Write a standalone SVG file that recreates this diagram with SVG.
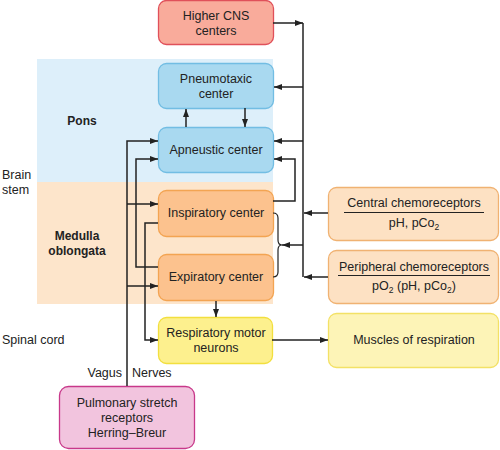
<svg xmlns="http://www.w3.org/2000/svg" width="500" height="450" viewBox="0 0 500 450">
<defs>
<marker id="ah" markerUnits="userSpaceOnUse" markerWidth="8" markerHeight="6" refX="8" refY="3" orient="auto">
<path d="M0,0 L8,3 L0,6 z" fill="#222"/>
</marker>
</defs>
<style>
text{font-family:"Liberation Sans",Arial,sans-serif;font-size:12.5px;fill:#222}
.c{text-anchor:middle}
.b{font-weight:bold;font-size:12px}
.box{stroke-width:1.3}
.red{fill:#f9ab9b;stroke:#e0505a}
.blue{fill:#a9d9f0;stroke:#72bde3}
.orange{fill:#fcc28e;stroke:#f3a452}
.yellow{fill:#fdf08e;stroke:#f2df3e}
.lyellow{fill:#fdf4b7;stroke:#f3e166}
.chemo{fill:#fde1c3;stroke:#f0b272}
.pink{fill:#f2c4de;stroke:#c8388a}
#connectors path{fill:none;stroke:#222;stroke-width:1.5}
.sub{font-size:8.5px}
</style>
<rect x="0" y="0" width="500" height="450" fill="#fff"/>
<g id="regions">
<rect x="37" y="59" width="236" height="123" fill="#ddeffa"/>
<rect x="37" y="182" width="236" height="122" fill="#fde5cb"/>
<text x="82" y="125" class="c b">Pons</text>
<text x="77" y="240" class="c b">Medulla</text>
<text x="77" y="255" class="c b">oblongata</text>
<text x="2" y="179">Brain</text>
<text x="2" y="194">stem</text>
<text x="2" y="344">Spinal cord</text>
</g>
<g id="higher-cns">
<rect class="box red" x="158.5" y="0.5" width="115" height="44" rx="8"/>
<text x="216" y="20" class="c">Higher CNS</text>
<text x="216" y="35" class="c">centers</text>
</g>
<g id="pneumotaxic">
<rect class="box blue" x="158.5" y="63.5" width="115" height="45" rx="8"/>
<text x="216" y="83" class="c">Pneumotaxic</text>
<text x="216" y="98" class="c">center</text>
</g>
<g id="apneustic">
<rect class="box blue" x="158.5" y="127.5" width="115" height="45" rx="8"/>
<text x="216" y="154" class="c">Apneustic center</text>
</g>
<g id="inspiratory">
<rect class="box orange" x="158.5" y="190.5" width="115" height="46" rx="8"/>
<text x="216" y="217" class="c">Inspiratory center</text>
</g>
<g id="expiratory">
<rect class="box orange" x="158.5" y="254.5" width="115" height="46" rx="8"/>
<text x="216" y="281" class="c">Expiratory center</text>
</g>
<g id="central-chemoreceptors">
<rect class="box chemo" x="328.5" y="187.5" width="170" height="53" rx="8"/>
<text x="414" y="207" class="c">Central chemoreceptors</text>
<line x1="344" y1="212.5" x2="484" y2="212.5" stroke="#222" stroke-width="1"/>
<text x="414" y="227" class="c">pH, pCo<tspan class="sub" dy="3">2</tspan></text>
</g>
<g id="peripheral-chemoreceptors">
<rect class="box chemo" x="328.5" y="250.5" width="170" height="53" rx="8"/>
<text x="414" y="271" class="c">Peripheral chemoreceptors</text>
<line x1="338" y1="275.5" x2="490" y2="275.5" stroke="#222" stroke-width="1"/>
<text x="414" y="290" class="c">pO<tspan class="sub" dy="3">2</tspan><tspan dy="-3"> (pH, pCo</tspan><tspan class="sub" dy="3">2</tspan><tspan dy="-3">)</tspan></text>
</g>
<g id="motor-neurons">
<rect class="box yellow" x="158.5" y="317.5" width="114" height="46" rx="8"/>
<text x="216" y="337" class="c">Respiratory motor</text>
<text x="216" y="352" class="c">neurons</text>
</g>
<g id="muscles">
<rect class="box lyellow" x="328.5" y="313.5" width="170" height="54" rx="8"/>
<text x="414" y="344" class="c">Muscles of respiration</text>
</g>
<g id="pulmonary">
<rect class="box pink" x="59.5" y="386.5" width="135" height="62" rx="9"/>
<text x="127" y="407" class="c">Pulmonary stretch</text>
<text x="127" y="422" class="c">receptors</text>
<text x="127" y="437" class="c">Herring–Breur</text>
</g>
<g id="labels">
<text x="122" y="377" text-anchor="end">Vagus</text>
<text x="132" y="377">Nerves</text>
</g>
<g id="connectors">
<path d="M273,23 H303" marker-end="url(#ah)"/>
<path d="M303,23 V277"/>
<path d="M303,87 H274" marker-end="url(#ah)"/>
<path d="M303,141 H274" marker-end="url(#ah)"/>
<path d="M273,201 H295 V159 H274" marker-end="url(#ah)"/>
<path d="M303,245 H282" marker-end="url(#ah)"/>
<path d="M328,213 H304" marker-end="url(#ah)"/>
<path d="M328,277 H304" marker-end="url(#ah)"/>
<path d="M273,213 Q278,213 278,218 V240 Q278,245 282,245 Q278,245 278,250 V272 Q278,277 273,277" style="stroke-width:1.2"/>
<path d="M186,127 V109" marker-end="url(#ah)"/>
<path d="M245,108 V127" marker-end="url(#ah)"/>
<path d="M127,386 V141 H158" marker-end="url(#ah)"/>
<path d="M127,204 H158" marker-end="url(#ah)"/>
<path d="M127,286 H158" marker-end="url(#ah)"/>
<path d="M158,267 H136 V159 H158" marker-end="url(#ah)"/>
<path d="M158,223 H145 V340 H158" marker-end="url(#ah)"/>
<path d="M216,301 V317" marker-end="url(#ah)"/>
<path d="M272,340 H328" marker-end="url(#ah)"/>
</g>
</svg>
